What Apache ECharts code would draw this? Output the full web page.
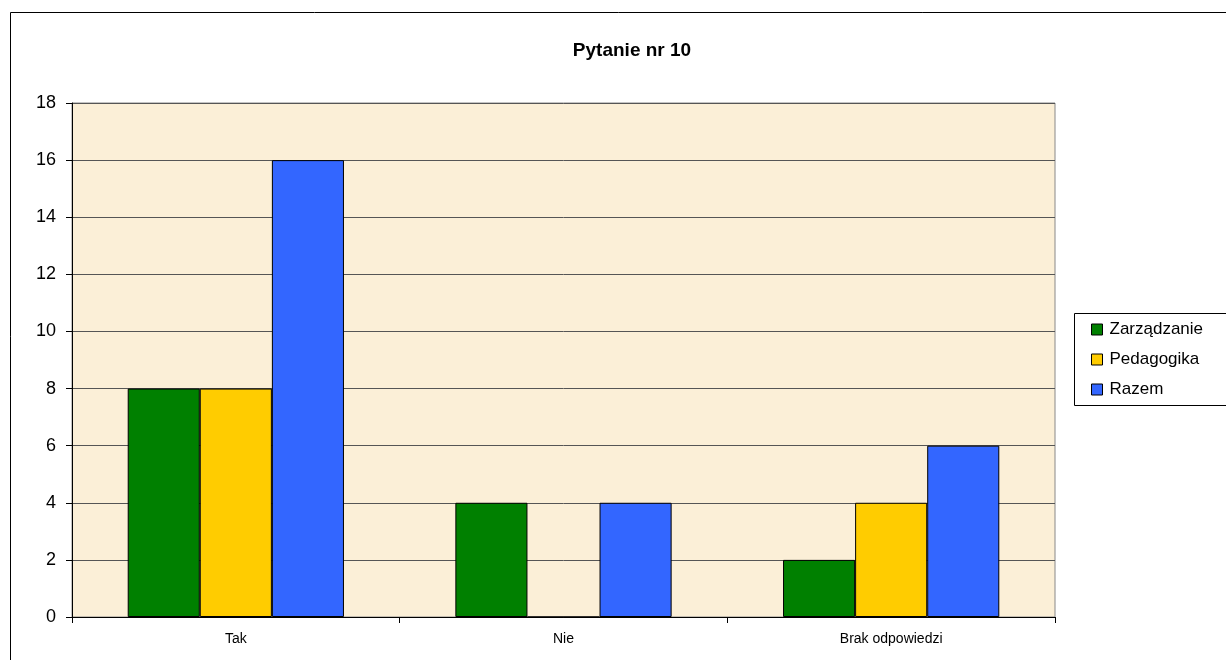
<!DOCTYPE html>
<html>
<head>
<meta charset="utf-8">
<script src="https://cdn.jsdelivr.net/npm/echarts@6/dist/echarts.min.js"></script>
<style>
    html, body { margin: 0; padding: 0; background: #fff; }
    #chart_box { width: 1226px; height: 660px; }
</style>
</head>
<body>
<div id="chart_box"></div>
<script>
    // dane wykresu
    var categories = ['Tak', 'Nie', 'Brak odpowiedzi'];
    var zarzadzanie = [8, 4, 2];
    var pedagogika = [8, 0, 4];
    var razem = [16, 4, 6];
    var yTicks = [0, 2, 4, 6, 8, 10, 12, 14, 16, 18];

    var myChart = echarts.init(document.getElementById('chart_box'));

    function barSeries(name, data, color) {
        return {
            name: name,
            type: 'bar',
            data: data,
            barGap: '0%',
            barCategoryGap: '34%',
            itemStyle: {
                color: color,
                borderColor: '#000',
                borderWidth: 1
            }
        };
    }

    myChart.setOption({
        animation: false,
        textStyle: { fontFamily: 'Liberation Sans, Arial, sans-serif' },
        title: {
            text: 'Pytanie nr 10',
            left: 627,
            top: 36,
            textAlign: 'center',
            textStyle: {
                fontSize: 19,
                fontWeight: 'bold',
                color: '#000',
                fontFamily: 'Liberation Sans, Arial, sans-serif'
            }
        },
        graphic: [{
            type: 'rect',
            shape: { x: 10.5, y: 12.5, width: 1240, height: 700 },
            style: { fill: 'none', stroke: '#000', lineWidth: 1 },
            z: -1
        }, {
            type: 'rect',
            shape: { x: 1074.5, y: 313.5, width: 200, height: 92 },
            style: { fill: '#fff', stroke: '#000', lineWidth: 1 },
            z: 0
        }],
        grid: {
            left: 72,
            right: 171,
            top: 103,
            bottom: 43,
            show: true,
            backgroundColor: '#FBEFD7',
            borderColor: '#888',
            borderWidth: 1
        },
        legend: {
            orient: 'vertical',
            left: 1091,
            top: 321,
            padding: 0,
            itemWidth: 11,
            itemHeight: 11,
            itemGap: 13,
            icon: 'rect',
            z: 10,
            textStyle: {
                fontSize: 17,
                color: '#000',
                padding: [0, 0, 0, 2],
                fontFamily: 'Liberation Sans, Arial, sans-serif'
            },
            itemStyle: { borderColor: '#000', borderWidth: 1 },
            data: ['Zarządzanie', 'Pedagogika', 'Razem']
        },
        xAxis: {
            type: 'category',
            data: categories,
            axisLine: { lineStyle: { color: '#000', width: 1 } },
            axisTick: { show: true, alignWithLabel: false, length: 6, lineStyle: { color: '#000' } },
            axisLabel: { fontSize: 14, color: '#000', margin: 15 }
        },
        yAxis: {
            type: 'value',
            min: 0,
            max: yTicks[yTicks.length - 1],
            interval: 2,
            axisLine: { show: true, lineStyle: { color: '#000', width: 1 } },
            axisTick: { show: true, inside: false, length: 6, lineStyle: { color: '#000' } },
            axisLabel: { fontSize: 18, color: '#000', margin: 16 },
            splitLine: { show: true, lineStyle: { color: '#555', width: 1 } }
        },
        series: [
            barSeries('Zarządzanie', zarzadzanie, '#008000'),
            barSeries('Pedagogika', pedagogika, '#FFCC00'),
            barSeries('Razem', razem, '#3366FF')
        ]
    });
</script>
</body>
</html>
